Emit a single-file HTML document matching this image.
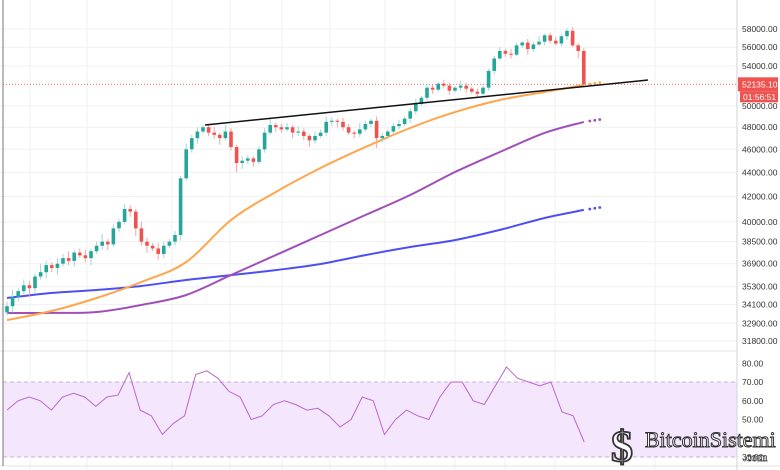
<!DOCTYPE html>
<html><head><meta charset="utf-8"><style>
html,body{margin:0;padding:0;background:#fff;}
svg{display:block;font-family:"Liberation Sans",sans-serif;}
</style></head><body>
<svg id="c" width="780" height="470" viewBox="0 0 780 470"></svg>
<script>
const closes=[34000,34600,35000,35400,35200,36000,36300,36800,36600,36900,
37300,37100,37700,37500,37300,37800,38200,38500,38300,39500,
40000,41000,40800,39500,38500,38200,38000,37600,38200,38500,
39000,43500,46000,47000,47600,48000,47500,47300,47000,47600,
46200,44800,45000,45200,44900,46000,47500,48200,48000,47800,
48000,47500,47600,47200,46800,47200,47500,48500,48600,48500,
48000,47500,47400,47800,48300,48600,47000,47200,47600,48100,
48300,48800,49500,50200,50800,51800,51600,52200,52000,51500,
51800,52000,51700,51400,51200,51800,53500,54800,55600,55300,
55200,56200,56500,55800,56300,56600,57300,56700,56400,57200,57800,56200,55600,52135];
const firstOpen=33600;
const wickUp=[3,5,2,4,3,2,6,3,2,4,3,5,2,3,4,2,3,6,2,3,2,4,3,2,5,3,2,4,3,2,3,2,5,3,4,2,3,5,2,6,3,2,4,3,2,3,4,6,2,3,4,2,5,3,2,4,3,5,3,2,4,3,2,6,3,2,4,3,2,3,4,2,3,5,2,4,3,2,4,3,2,5,3,2,3,4,2,3,4,2,5,3,2,4,3,6,2,3,4,2,3,4,2,3];
const wickDn=[2,4,3,2,5,3,2,4,3,5,2,3,4,2,3,5,2,3,4,2,3,2,4,6,3,5,2,4,3,2,3,4,2,3,5,2,3,4,6,2,3,8,5,3,4,2,3,2,4,3,2,5,3,4,6,3,2,3,4,5,3,2,4,3,2,3,9,4,3,2,3,2,4,3,2,3,4,2,3,4,2,3,4,2,3,2,3,4,2,3,4,2,3,6,3,2,4,3,2,3,4,2,8,3];
const maIdx=[0,8,16,24,32,40,48,56,64,72,80,88,96,103];
const ma50=[33100,33690,34540,35620,37020,40140,42370,44370,46200,47930,49420,50580,51370,52070];
const ma100=[33560,33560,33620,34080,34740,36100,37520,39000,40530,42120,44030,45760,47480,48490];
const ma200=[34540,34880,35080,35350,35760,36100,36450,36880,37520,38110,38620,39380,40300,40930];
const rsi=[55,60,62,60,55,62,64,62,57,62,63,75,55,52,42,48,52,74,76,72,65,62,50,52,58,60,58,55,56,52,46,50,62,60,42,50,55,52,50,62,70,70,60,58,68,78,72,70,68,70,54,52,38];
const priceTicks=[58000,56000,54000,50000,48000,46000,44000,42000,40000,38500,36900,35300,34100,32900,31800];
const rsiTicks=[80,70,60,50];
const lastPrice=52135.10;

const S=document.getElementById('c');const NS='http://www.w3.org/2000/svg';
function mk(t,a,p){const e=document.createElementNS(NS,t);for(const k in a)e.setAttribute(k,a[k]);(p||S).appendChild(e);return e;}
const yP=p=>29+(Math.log(58000)-Math.log(p))*519;
const xI=i=>7+i*5.6;
const yR=v=>382+(70-v)*1.875;
const xR=k=>7+k*11.1;

const grid=mk('g',{});
[30,87,172,230,282,330,385,455,505,555,655].forEach(x=>mk('line',{x1:x,y1:0,x2:x,y2:470,stroke:'#f0f0f3'},grid));
priceTicks.forEach(t=>mk('line',{x1:0,y1:yP(t),x2:737,y2:yP(t),stroke:'#f0f0f3'},grid));
const band=mk('rect',{x:3,y:yR(70),width:734,height:yR(30)-yR(70),fill:'#f3e6fd'});

[70,30].forEach(v=>mk('line',{x1:3,y1:yR(v),x2:737,y2:yR(v),stroke:'#c8b0d6','stroke-dasharray':'4,3'}));
mk('line',{x1:0,y1:351,x2:737,y2:351,stroke:'#e0e3eb'});
mk('line',{x1:0,y1:466,x2:780,y2:466,stroke:'#e0e3eb'});
mk('line',{x1:3,y1:0,x2:3,y2:466,stroke:'#777'});
mk('line',{x1:737,y1:0,x2:737,y2:470,stroke:'#d0d3db'});
const pl=mk('line',{x1:3,y1:yP(lastPrice),x2:737,y2:yP(lastPrice),stroke:'#ef5350','stroke-dasharray':'1,2','stroke-width':0.8});

function smooth(pts){let d='M'+pts[0][0]+','+pts[0][1];
for(let i=0;i<pts.length-1;i++){const p0=pts[i-1]||pts[i],p1=pts[i],p2=pts[i+1],p3=pts[i+2]||p2;
d+=' C'+(p1[0]+(p2[0]-p0[0])/6).toFixed(1)+','+(p1[1]+(p2[1]-p0[1])/6).toFixed(1)+' '+(p2[0]-(p3[0]-p1[0])/6).toFixed(1)+','+(p2[1]-(p3[1]-p1[1])/6).toFixed(1)+' '+p2[0].toFixed(1)+','+p2[1].toFixed(1);}
return d;}
function ma(arr,col,name){const pts=arr.map((v,j)=>[xI(maIdx[j]),yP(v)]);
const e=mk('path',{d:smooth(pts),fill:'none',stroke:col,'stroke-width':2});

const last=arr[arr.length-1];const lx=xI(maIdx[maIdx.length-1]);
[6,11,16].forEach(d=>mk('circle',{cx:lx+d,cy:yP(last)-d*0.15,r:1.4,fill:col}));}
ma(ma200,'#4e4ff0','ma-200-line');ma(ma100,'#a04fb8','ma-100-line');ma(ma50,'#ffa64d','ma-50-line');
const cg=mk('g',{});
closes.forEach((c,i)=>{const o=i?closes[i-1]:firstOpen;const up=c>=o;const col=up?'#26a69a':'#ef5350';
const hi=Math.max(o,c)+wickUp[i]*100,lo=Math.min(o,c)-wickDn[i]*100;const x=xI(i);
mk('line',{x1:x,y1:yP(hi),x2:x,y2:yP(lo),stroke:up?'#9fd8d2':'#f5a3a1','stroke-width':1},cg);
const y1=yP(Math.max(o,c)),y2=yP(Math.min(o,c));
const r=mk('rect',{x:x-1.8,y:y1,width:3.6,height:Math.max(1,y2-y1),fill:col},cg);
});
const tl=mk('line',{x1:205,y1:125,x2:648,y2:80,stroke:'#111','stroke-width':1.5});

const rl=mk('polyline',{points:rsi.map((v,k)=>xR(k).toFixed(1)+','+yR(v).toFixed(1)).join(' '),fill:'none',stroke:'#ba68c8','stroke-width':1});

const ax=mk('g',{});
priceTicks.forEach(t=>{const e=mk('text',{x:742,y:yP(t)+3,'font-size':'8.5',fill:'#333'},ax);e.textContent=t.toFixed(2);});
rsiTicks.forEach(t=>{const e=mk('text',{x:742,y:yR(t)+3,'font-size':'8.5',fill:'#333'},ax);e.textContent=t.toFixed(2);});
const t30=mk('text',{x:742,y:yR(30)+3,'font-size':'8.5',fill:'#333'},ax);t30.textContent='30.00';
const yl=yP(lastPrice);
const pb=mk('rect',{x:738,y:yl-7,width:40,height:14,fill:'#ef5350'});
const pt=mk('text',{x:742,y:yl+3,'font-size':'8.5',fill:'#fff'});pt.textContent='52135.10';
mk('rect',{x:740,y:yl+7,width:38,height:11,fill:'#ef5350'});
const ct=mk('text',{x:743,y:yl+15.5,'font-size':'8.5',fill:'#fff'});ct.textContent='01:56:51';
const wm=mk('g',{});
const wi=mk('text',{x:611,y:461,'font-size':'44','font-family':'Liberation Serif,serif',fill:'#fff',stroke:'#333','stroke-width':'1.8','font-weight':'bold'},wm);wi.textContent='$';
const wt=mk('text',{x:645,y:447,'font-size':'22','font-family':'Liberation Serif,serif',fill:'#fff',stroke:'#333','stroke-width':'1'},wm);wt.textContent='BitcoinSistemi';
const wc=mk('text',{x:743,y:461,'font-size':'12','font-family':'Liberation Serif,serif',fill:'#fff',stroke:'#333','stroke-width':'0.7','font-weight':'bold'},wm);wc.textContent='.com';
</script>
</body></html>
